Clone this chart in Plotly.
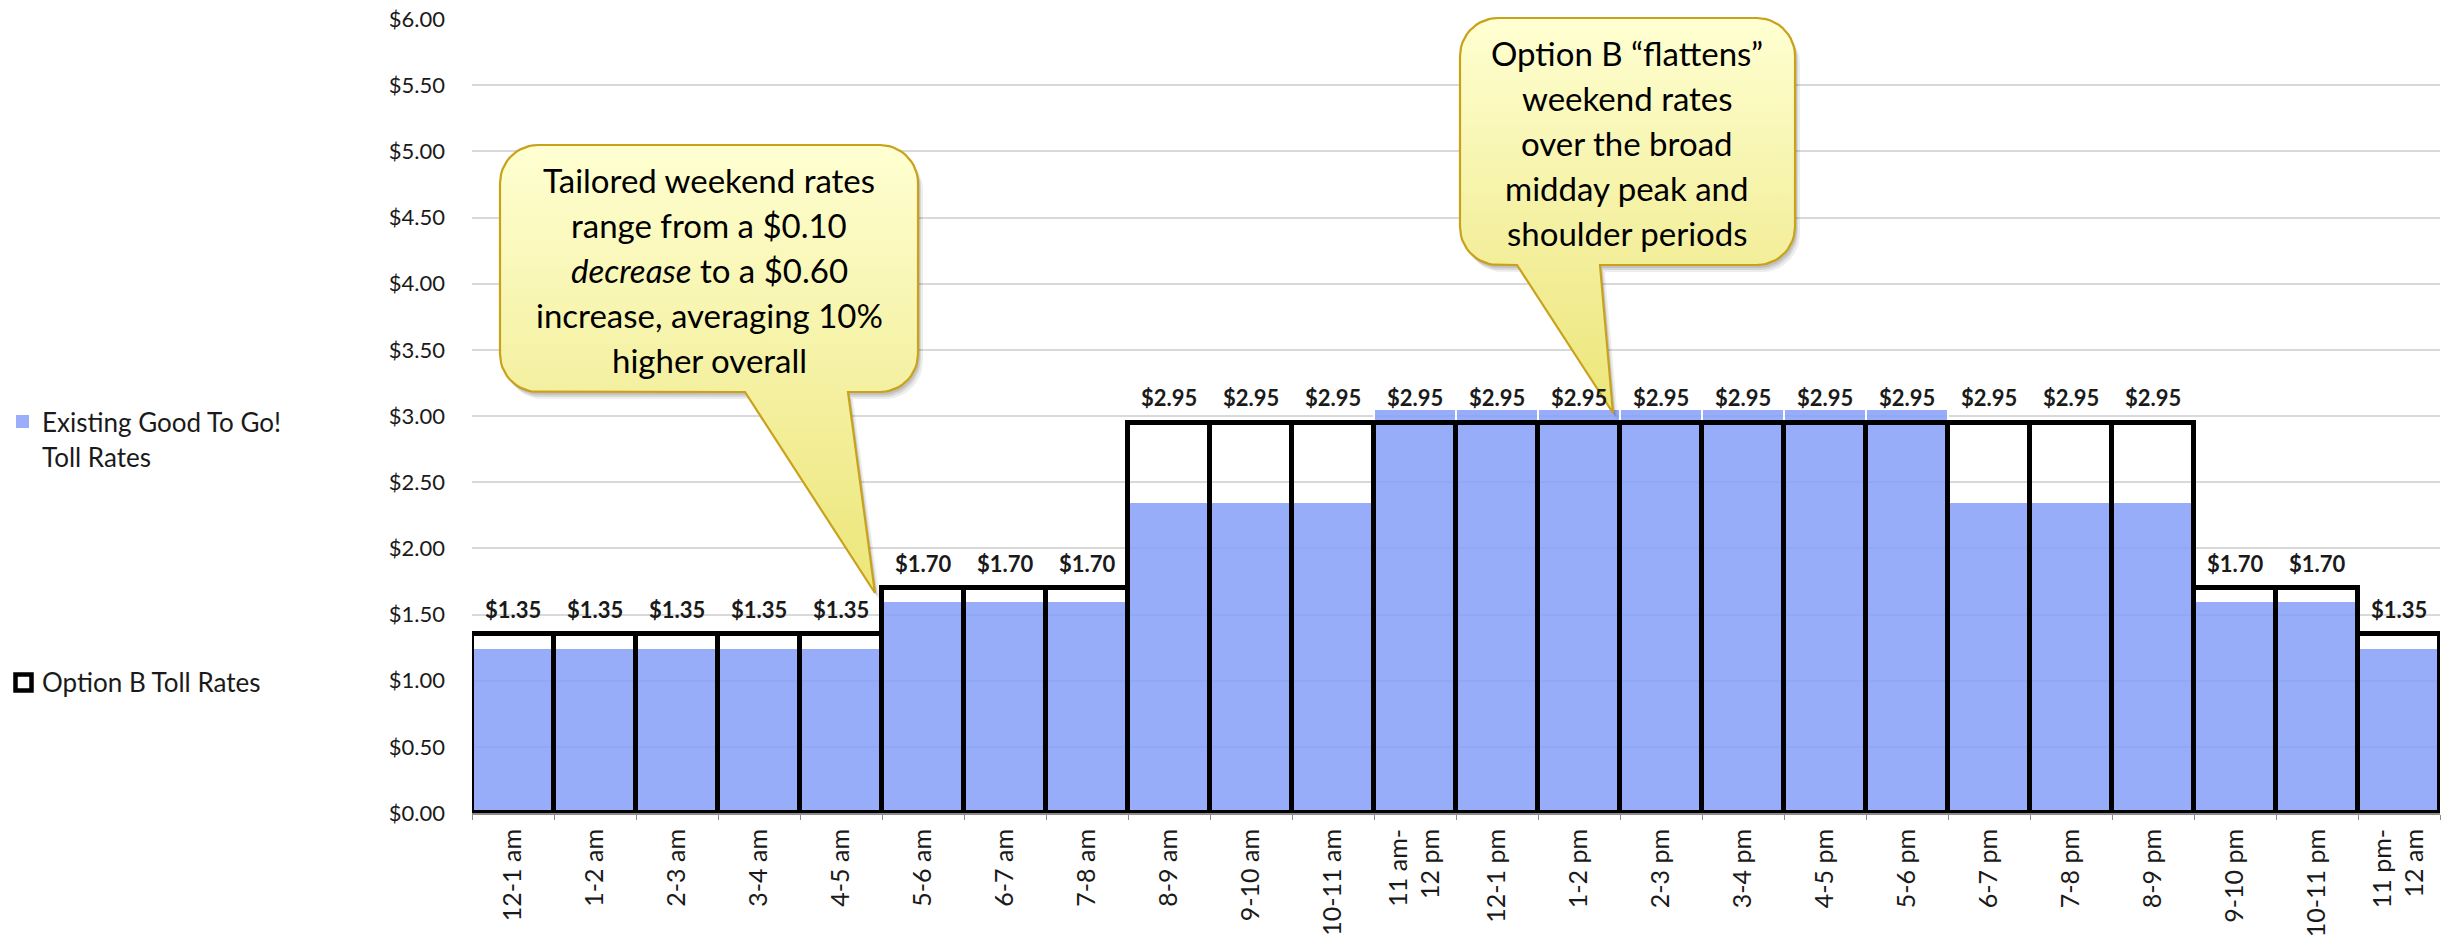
import numpy as np
import plotly.graph_objects as go

# ---------------- data ----------------
categories = ["12-1 am", "1-2 am", "2-3 am", "3-4 am", "4-5 am", "5-6 am", "6-7 am",
              "7-8 am", "8-9 am", "9-10 am", "10-11 am", "11 am-<br>12 pm", "12-1 pm",
              "1-2 pm", "2-3 pm", "3-4 pm", "4-5 pm", "5-6 pm", "6-7 pm", "7-8 pm",
              "8-9 pm", "9-10 pm", "10-11 pm", "11 pm-<br>12 am"]
existing_rates = [1.25, 1.25, 1.25, 1.25, 1.25, 1.60, 1.60, 1.60, 2.35, 2.35, 2.35, 3.05,
                  3.05, 3.05, 3.05, 3.05, 3.05, 3.05, 2.35, 2.35, 2.35, 1.60, 1.60, 1.25]
option_b_rates = [1.35, 1.35, 1.35, 1.35, 1.35, 1.70, 1.70, 1.70, 2.95, 2.95, 2.95, 2.95,
                  2.95, 2.95, 2.95, 2.95, 2.95, 2.95, 2.95, 2.95, 2.95, 1.70, 1.70, 1.35]
series_names = ["Existing Good To Go!<br>Toll Rates", "Option B Toll Rates"]
callout_1_lines = ["Tailored weekend rates", "range from a $0.10",
                   "<i>decrease</i> to a $0.60", "increase, averaging 10%", "higher overall"]
callout_2_lines = ["Option B \u201cflattens\u201d", "weekend rates", "over the broad",
                   "midday peak and", "shoulder periods"]

W, H = 2450, 945
FONT = "Lato"
TXT = "#1a1a1a"


def px(x):
    return x / W


def py(y):
    return 1 - y / H


fig = go.Figure()

fig.add_trace(go.Bar(
    x=categories, y=existing_rates, name=series_names[0],
    marker=dict(color="#86A0FA", line=dict(color="white", width=2)),
    opacity=0.86, showlegend=False, hoverinfo="skip"))
fig.add_trace(go.Bar(
    x=categories, y=option_b_rates, name=series_names[1],
    marker=dict(color="rgba(0,0,0,0)", line=dict(color="black", width=5)),
    showlegend=False, hoverinfo="skip"))

# data labels
annotations = []
for c, v in zip(categories, option_b_rates):
    annotations.append(dict(x=c, y=v, xref="x", yref="y", text=f"${v:.2f}",
                            showarrow=False, yshift=25, yanchor="middle",
                            font=dict(family=FONT, size=22, color=TXT, weight="bold")))


# ---------------- callouts (pixel overlay axes) ----------------
def bubble(x0, y0, x1, y1, r, tb0, tb1, tip):
    xs, ys = [], []

    def arc(cx, cy, a0, a1):
        t = np.linspace(a0, a1, 14)
        xs.extend(cx + r * np.cos(t))
        ys.extend(cy + r * np.sin(t))

    arc(x0 + r, y0 + r, np.pi, 1.5 * np.pi)
    arc(x1 - r, y0 + r, 1.5 * np.pi, 2 * np.pi)
    arc(x1 - r, y1 - r, 0, 0.5 * np.pi)
    xs.extend([tb1, tip[0], tb0])
    ys.extend([y1, tip[1], y1])
    arc(x0 + r, y1 - r, 0.5 * np.pi, np.pi)
    xs.append(xs[0])
    ys.append(ys[0])
    return np.array(xs), np.array(ys)


bubbles = [
    dict(box=(500, 145, 918, 392), tail=(745, 848, (875, 593)), lines=callout_1_lines,
         cx=709, ly0=180),
    dict(box=(1460, 18, 1795, 265), tail=(1517, 1600, (1613, 413)), lines=callout_2_lines,
         cx=1627, ly0=53),
]

for b in bubbles:
    x0, y0, x1, y1 = b["box"]
    tb0, tb1, tip = b["tail"]
    bx, by = bubble(x0, y0, x1, y1, 38, tb0, tb1, tip)
    for dx, dy, a in [(5, 7, 0.07), (3, 5, 0.09), (2, 3, 0.10)]:
        fig.add_trace(go.Scatter(x=bx + dx, y=by + dy, xaxis="x2", yaxis="y2", mode="lines",
                                 fill="toself", fillcolor=f"rgba(0,0,0,{a})",
                                 line=dict(width=0), showlegend=False, hoverinfo="skip"))
    fig.add_trace(go.Scatter(
        x=bx, y=by, xaxis="x2", yaxis="y2", mode="lines", fill="toself",
        fillgradient=dict(type="vertical",
                          colorscale=[[0, "#ECE679"], [0.45, "#F4F0A0"], [1, "#FFFFD2"]]),
        line=dict(color="#C9A21B", width=2.2), showlegend=False, hoverinfo="skip"))
    for i, ln in enumerate(b["lines"]):
        annotations.append(dict(x=b["cx"], y=b["ly0"] + 45 * i, xref="x2", yref="y2",
                                text=ln, showarrow=False, xanchor="center", yanchor="middle",
                                font=dict(family=FONT, size=33, color="black")))

# ---------------- legend (manual) ----------------
shapes = [
    dict(type="rect", xref="paper", yref="paper", x0=px(16), x1=px(29), y0=py(428), y1=py(415),
         fillcolor="#9AAEFB", line=dict(width=0)),
    dict(type="rect", xref="paper", yref="paper", x0=px(15.5), x1=px(31.5), y0=py(690.5),
         y1=py(674.5), fillcolor="white", line=dict(color="black", width=4.5)),
]
leg_lines_1 = series_names[0].split("<br>")
annotations.append(dict(x=px(40), y=py(422), xref="paper", yref="paper", text=leg_lines_1[0],
                        showarrow=False, xanchor="left", yanchor="middle",
                        font=dict(family=FONT, size=26, color=TXT)))
annotations.append(dict(x=px(40), y=py(457), xref="paper", yref="paper", text=leg_lines_1[1],
                        showarrow=False, xanchor="left", yanchor="middle",
                        font=dict(family=FONT, size=26, color=TXT)))
annotations.append(dict(x=px(40), y=py(682), xref="paper", yref="paper", text=series_names[1],
                        showarrow=False, xanchor="left", yanchor="middle",
                        font=dict(family=FONT, size=26, color=TXT)))

fig.update_layout(
    width=W, height=H,
    margin=dict(l=0, r=0, t=0, b=0, autoexpand=False),
    paper_bgcolor="white", plot_bgcolor="rgba(0,0,0,0)",
    barmode="overlay", bargap=0,
    showlegend=False,
    font=dict(family=FONT, color=TXT),
    xaxis=dict(domain=[px(472), px(2440)], type="category", tickangle=-90,
               tickfont=dict(family=FONT, size=25, color=TXT), automargin=False,
               showline=True, linecolor="#8C8C8C", linewidth=2,
               ticks="outside", tickson="boundaries", ticklen=5, tickcolor="#8C8C8C",
               ticklabelstandoff=4, showgrid=False, fixedrange=True),
    yaxis=dict(domain=[py(813), py(19)], range=[0, 6], dtick=0.5, tickformat="$.2f",
               tickfont=dict(family=FONT, size=22, color=TXT), automargin=False,
               showgrid=True, gridcolor="#D9D9D9", gridwidth=2, zeroline=False,
               showline=False, ticks="", ticklabelstandoff=26, fixedrange=True),
    xaxis2=dict(domain=[0, 1], range=[0, W], visible=False, anchor="y2", fixedrange=True,
                automargin=False),
    yaxis2=dict(domain=[0, 1], range=[H, 0], visible=False, anchor="x2", fixedrange=True,
                automargin=False),
    shapes=shapes,
    annotations=annotations,
)

fig.write_html("out.html")
